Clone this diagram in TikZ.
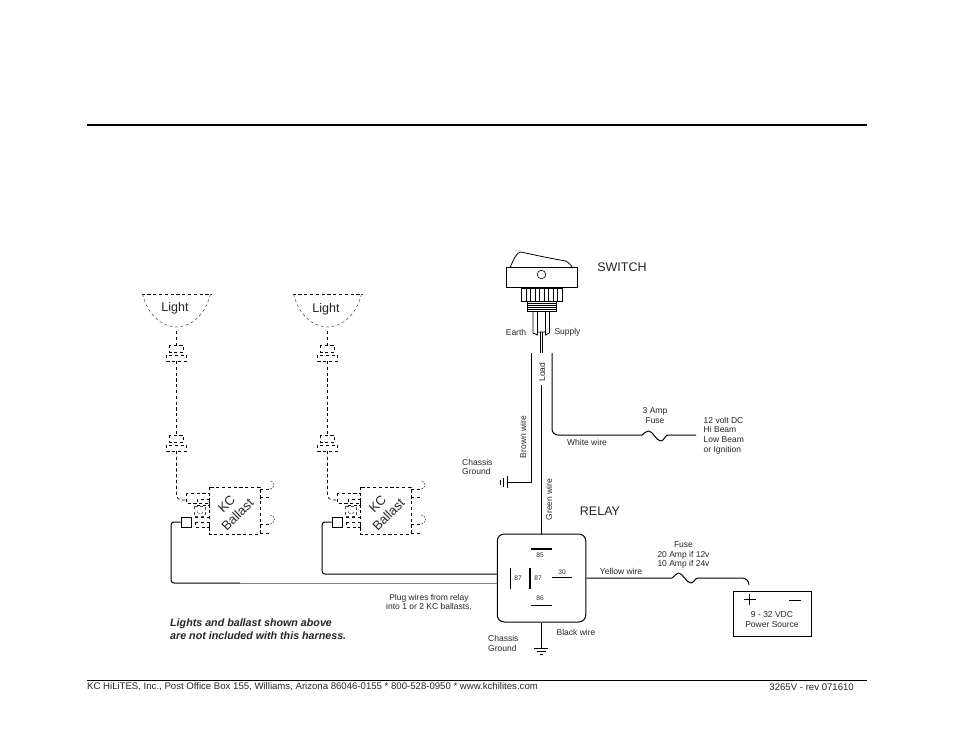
\documentclass[tikz,border=0pt]{standalone}
\usepackage{fontspec}
\setmainfont{Liberation Sans}
\tikzset{
  x=1pt,y=-1pt,
  wire/.style={line width=1pt,line join=round},
  thinw/.style={line width=0.7pt},
  thick bar/.style={line width=1.7pt},
  dsh/.style={line width=0.7pt,dash pattern=on 3.2pt off 2.6pt},
  dshl/.style={line width=0.5pt,black!70,dash pattern=on 3pt off 2.5pt},
  lab/.style={inner sep=0pt,align=center,font=\fontsize{8.5}{9.7}\selectfont,text=black!85},
  dig/.style={inner sep=0pt,font=\fontsize{6.6}{8}\selectfont,text=black!85},
  big/.style={inner sep=0pt,font=\fontsize{12.5}{14}\selectfont,text=black!85},
  plugpic/.pic={
    \draw[dsh] (-7,-8) rectangle (7,-1);
    \draw[dsh] (-10,2) rectangle (10,8);
  },
  ballastpic/.pic={
    \draw[dsh] (0,0) rectangle (51,47);
    \draw[dsh] (51,2)--(61,2) (51,10)--(61,10) (51,37)--(61,37) (51,46)--(61,46);
    \draw[dshl,dash pattern=on 2pt off 1pt] (61,2) arc (90:-90:4);
    \draw[dshl,dash pattern=on 2pt off 1pt] (61,37) arc (90:-90:4.5);
    \draw[dsh] (-23,6) rectangle (0,16);
    \draw[dsh] (-12,12) rectangle (0,18);
    \draw[dshl] (-15,19) rectangle (-4,29);
    \draw[dshl,dash pattern=on 2pt off 1pt] (-12,24) arc (180:0:3);
    \draw[dsh] (-14,30)--(0,30);
    \draw[dsh] (-14,35) rectangle (0,40);
  }
}
\begin{document}
\begin{tikzpicture}
\useasboundingbox (0,0) rectangle (954,738);
\fill[white] (0,0) rectangle (954,738);
% rules
\coordinate (ruleAl) at (87,125); \coordinate (ruleAr) at (867,125);
\coordinate (ruleBl) at (87,680); \coordinate (ruleBr) at (867,680);
\draw[line width=1.7pt] (ruleAl)--(ruleAr);
\draw[line width=0.6pt] (ruleBl)--(ruleBr);
\node[inner sep=0pt,anchor=west,font=\fontsize{9.6}{11}\selectfont,text=black!85] (foot) at (87,687) {KC HiLiTES, Inc., Post Office Box 155, Williams, Arizona 86046-0155 * 800-528-0950 * www.kchilites.com};
\node[inner sep=0pt,anchor=east,font=\fontsize{9.6}{11}\selectfont,text=black!85] (rev) at (854,687) {3265V - rev 071610};

% lights
\foreach \n/\cx/\ly in {A/176.5/308,B/327.5/309}{
  \draw[dsh] (\cx-35,294)--(\cx+35,294);
  \draw[dshl] (\cx-34,294) .. controls (\cx-28,318) and (\cx-12,327) .. (\cx,327) .. controls (\cx+12,327) and (\cx+28,318) .. (\cx+34,294);
  \node[big] (light\n) at (\cx-1.5,\ly) {Light};
  \pic at (\cx,353) {plugpic};
  \pic at (\cx,443) {plugpic};
  \coordinate (lt\n) at (\cx,331);
  \coordinate (pa\n) at (\cx,345);
  \coordinate (pb\n) at (\cx,361);
  \coordinate (pc\n) at (\cx,435);
  \coordinate (pd\n) at (\cx,451);
  \draw[dsh] (lt\n)--(pa\n) (pb\n)--(pc\n);
  \draw[dsh,rounded corners=5pt] (pd\n)--(\cx,500)--(\cx+10,500);
  \pic at (\cx+32.5,487) {ballastpic};
  \node[inner sep=0pt,rotate=45,align=center,font=\fontsize{13}{15.5}\selectfont,text=black!85] (bal\n) at (\cx+55.5,509.5) {KC\\Ballast};
  \node[draw,line width=0.8pt,minimum width=10pt,minimum height=10pt,inner sep=0pt] (sq\n) at (\cx+9.5,522) {};
}
% relay
\node[draw,line width=1pt,rounded corners=7pt,minimum width=88.5pt,minimum height=88pt,inner sep=0pt] (relay) at (541.5,578) {};
\node[dig] (r85) at (540,555) {85};
\node[dig] (r87a) at (518,578) {87};
\node[dig] (r87b) at (538,578) {87};
\node[dig] (r30) at (562,572) {30};
\node[dig] (r86) at (540,598) {86};
\coordinate (b1) at (531,549); \coordinate (b2) at (552,549);
\coordinate (b3) at (510.5,568); \coordinate (b4) at (510.5,589);
\coordinate (b5) at (530,568); \coordinate (b6) at (530,589);
\coordinate (b7) at (552,577.5); \coordinate (b8) at (572,577.5);
\coordinate (b9) at (531,605); \coordinate (b10) at (552,605);
\draw[thick bar] (b1)--(b2) (b5)--(b6) (b7)--(b8);
\draw[thinw] (b3)--(b4) (b9)--(b10);
\node[big] (relaylab) at (600,511) {RELAY};
% plug wires
\draw[wire,rounded corners=3pt] (sqA.west)--(171,522)--(171,583)--(240,583);
\draw[wire,black!50] (240,583)--(relay.west |- 0,583);
\draw[wire,rounded corners=3pt] (sqB.west)--(322,522)--(322,574)--(relay.west |- 0,574);
\node[lab] (plugtxt) at (429,602) {Plug wires from relay\\into 1 or 2 KC ballasts.};
\node[inner sep=0pt,align=left,anchor=west,font=\fontsize{10.7}{13}\bfseries\itshape\selectfont,text=black!85] (note) at (170,629) {Lights and ballast shown above\\are not included with this harness.};
% switch
\draw[line width=0.8pt] (510,268) .. controls (514,258) and (517,252) .. (521,252) .. controls (530,254) and (548,258) .. (566,261) .. controls (569,263) and (571,265) .. (573,268);
\node[draw,line width=1pt,minimum width=71pt,minimum height=20pt,inner sep=0pt] (swbody) at (541.5,278) {};
\node[draw,circle,line width=0.6pt,minimum size=8.5pt,inner sep=0pt] (swlamp) at (541.5,274.5) {};
\draw[line width=0.8pt] (521,288) rectangle (562,301);
\foreach \x in {526,530.5,535,539.5,544,548.5,553,557.5}{\draw[line width=0.6pt] (\x,288)--(\x,301);}
\draw[line width=0.8pt] (527,301) rectangle (556,311);
\foreach \y in {303,305,307,309}{\draw[line width=0.7pt] (527,\y)--(556,\y);}
\draw[line width=0.8pt] (533,311)--(533,333)--(537.5,335)--(537.5,332)--(545.5,332)--(545.5,335)--(549.5,333)--(549.5,311);
\draw[line width=0.8pt] (537.5,311)--(537.5,332) (545.5,311)--(545.5,332);
\draw[line width=0.7pt] (540.7,332)--(540.7,353) (542.5,332)--(542.5,353);
\node[big] (switchlab) at (622,267) {SWITCH};
\node[lab] (earth) at (516,332.5) {Earth};
\node[lab] (supply) at (567.5,332.5) {Supply};
\node[lab,rotate=90] (load) at (542,372) {Load};
% wires up
\coordinate (greenTop) at (541.5,385);
\coordinate (earthGnd) at (507.5,482);
\draw[wire] (relay.north)--(greenTop);
\draw[wire] (531,353)--(531,482)--(earthGnd);
\draw[wire] (507.5,476)--(507.5,488);
\draw[wire] (503.8,477.5)--(503.8,486.5);
\draw[wire] (500,480)--(500,485);
\node[lab,align=left,anchor=west] (cg1) at (462,467) {Chassis\\Ground};
\node[lab,rotate=90] (brown) at (523,437) {Brown wire};
\node[lab,rotate=90] (green) at (549,499.5) {Green wire};
% white wire
\coordinate (fa) at (642,435); \coordinate (fb) at (668,435); \coordinate (fend) at (696,435);
\draw[wire,rounded corners=6pt] (552,353)--(552,435)--(fa);
\draw[wire] (fa) .. controls (645,433) and (646,431) .. (648.5,431) .. controls (653,431) and (656,441) .. (661,441) .. controls (664,441) and (665,435) .. (fb)--(fend);
\node[lab] (wwire) at (587,442) {White wire};
\node[lab] (f3) at (655,415.5) {3 Amp\\Fuse};
\node[lab,align=left,anchor=west] (v12) at (703.5,435.5) {12 volt DC\\Hi Beam\\Low Beam\\or Ignition};
% yellow wire
\coordinate (ya) at (672,578); \coordinate (yb) at (698,578);
\node[draw,line width=0.9pt,minimum width=78pt,minimum height=45pt,inner sep=0pt] (power) at (772.5,613.5) {};
\draw[wire] (relay.east |- 0,578)--(ya) .. controls (675,576) and (676,573) .. (678.5,573) .. controls (683,573) and (686,583) .. (691,583) .. controls (694,583) and (695,578) .. (yb)--(742,578) .. controls (746,578) and (749,581) .. (749,585);
\draw[line width=0.8pt] (744,599.5)--(755.5,599.5) (749.5,594)--(749.5,605);
\draw[line width=0.8pt] (789,600)--(801,600);
\node[lab] (ptxt) at (772,619.5) {9 - 32 VDC\\Power Source};
\node[lab] (ftxt) at (683.5,555) {Fuse\\20 Amp if 12v\\10 Amp if 24v};
\node[lab] (ywire) at (621,571) {Yellow wire};
% black wire
\coordinate (gndB) at (541,648);
\draw[wire] (relay.south -| gndB)--(gndB);
\draw[wire] (534,648)--(548,648);
\draw[wire] (537,651)--(545.5,651);
\draw[wire] (539.5,654.5)--(543,654.5);
\node[lab] (bwire) at (576,632) {Black wire};
\node[lab,align=left,anchor=west] (cg2) at (488,643.5) {Chassis\\Ground};
\end{tikzpicture}
\end{document}
